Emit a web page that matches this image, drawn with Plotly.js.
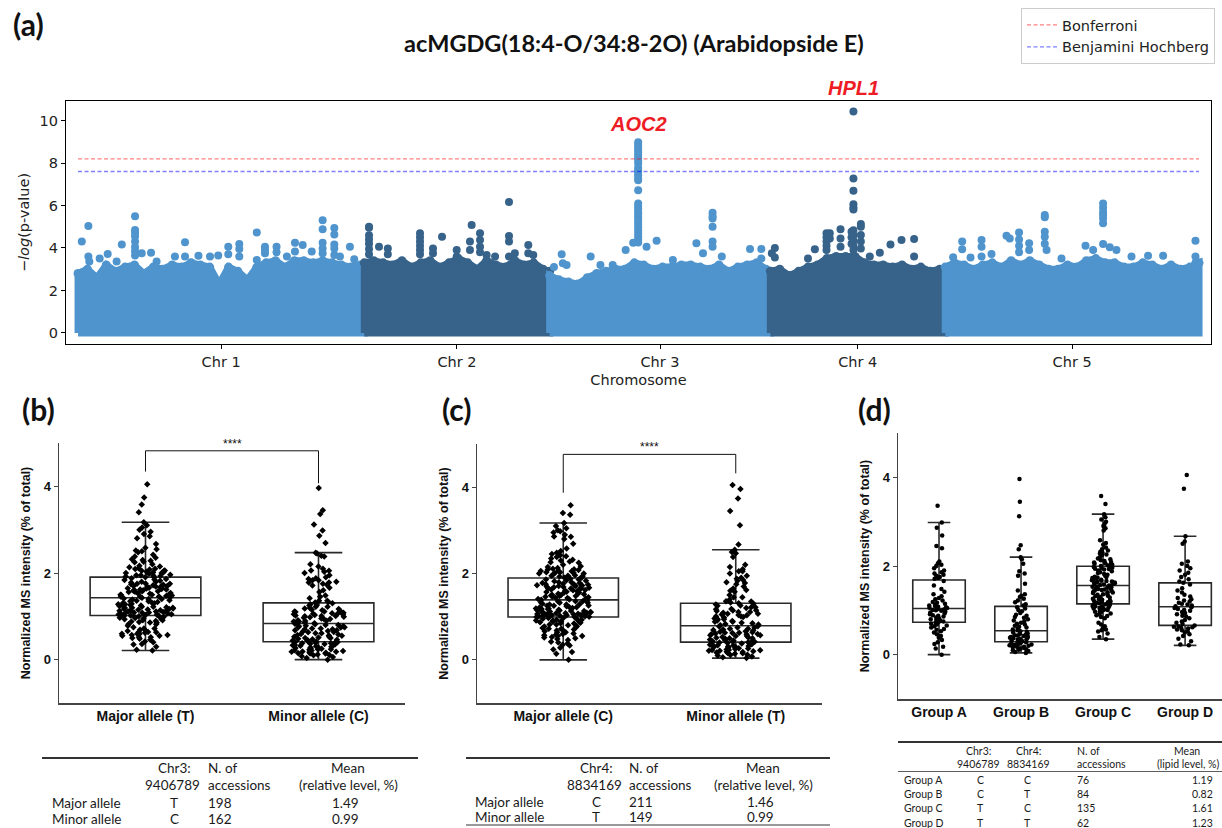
<!DOCTYPE html>
<html>
<head>
<meta charset="utf-8">
<script src="https://cdn.plot.ly/plotly-3.0.1.min.js"></script>
<style>
  html, body { margin: 0; padding: 0; background: #fff; }
  #fig { width: 1222px; height: 828px; }
</style>
</head>
<body>
<div id="fig"></div>
<script>
const W = 1222, H = 828;

// ---------------- Panel (a): genome-wide association ----------------
const chrNames = ['Chr 1', 'Chr 2', 'Chr 3', 'Chr 4', 'Chr 5'];
const chrLengthsMb = [30.43, 19.70, 23.46, 18.59, 26.98];
const chrColors = ['#4f94cd', '#37638a', '#4f94cd', '#37638a', '#4f94cd'];

// upper edge of the dense SNP cloud, one value per Mb (last value = chromosome end)
const chr1Cloud = [2.8, 3.0, 2.6, 3.2, 2.9, 3.1, 3.2, 2.8, 3.1, 3.0, 3.2, 3.1, 3.3, 3.2, 3.1, 2.3,
                   3.1, 2.9, 2.5, 3.1, 3.3, 3.4, 3.1, 3.4, 3.4, 3.3, 3.4, 3.3, 3.2, 3.1, 3.2, 2.9];
const chr2Cloud = [3.3, 3.4, 3.3, 3.2, 3.4, 3.1, 3.3, 3.4, 3.1, 3.3, 3.5, 3.3, 3.0, 3.4, 3.2, 3.1,
                   3.4, 3.2, 3.3, 3.0, 2.9];
const chr3Cloud = [2.7, 2.5, 2.4, 2.3, 2.6, 2.8, 2.9, 3.0, 3.0, 3.3, 3.2, 3.0, 3.1, 3.1, 3.2, 3.2,
                   3.1, 3.0, 3.2, 2.9, 3.1, 3.2, 3.3, 3.0, 2.9];
const chr4Cloud = [2.9, 3.0, 2.7, 2.9, 3.1, 3.2, 3.5, 3.6, 3.6, 3.6, 3.3, 3.2, 3.2, 3.1, 3.2, 3.0,
                   3.1, 2.9, 3.0, 2.9];
const chr5Cloud = [3.1, 3.3, 3.2, 3.0, 3.2, 3.3, 3.1, 3.4, 3.2, 3.4, 3.2, 3.0, 3.0, 3.2, 3.1, 3.4,
                   3.5, 3.3, 3.3, 3.1, 3.1, 3.3, 3.2, 3.0, 3.2, 3.0, 3.1, 3.3];

// SNPs standing above the cloud: position within the chromosome (Mb) and -log10(p)
const chr1HitPos = [0.4, 1.1, 1.1, 1.2, 2.3, 3.15, 4.1, 4.65,
  6.06, 6.06, 6.06, 6.06, 6.06, 6.06, 6.06, 6.06, 6.77, 7.76, 8.35, 10.3, 11.37, 11.37,
  12.1, 12.8, 14.03, 14.9, 15.97, 15.97, 17.14, 17.14, 17.14, 19.0, 19.0, 19.87, 19.87, 19.87,
  21.1, 21.1, 22.2, 23.06, 23.06, 23.88, 24.84, 26.0, 26.0, 26.0, 26.0, 26.0,
  27.24, 27.24, 27.24, 27.24, 27.24, 27.84, 28.9, 29.36];
const chr1HitLogP = [4.30, 5.03, 3.60, 3.36, 3.50, 3.72, 3.36, 4.17,
  5.50, 4.85, 4.72, 4.55, 4.30, 4.05, 3.85, 3.65, 3.75, 3.78, 3.36, 3.60, 4.27, 3.60,
  3.30, 3.64, 3.60, 3.65, 4.06, 3.70, 4.19, 3.95, 3.60, 4.73, 3.44, 4.06, 3.90, 3.75,
  4.06, 3.80, 3.60, 4.25, 3.83, 4.14, 3.83, 5.31, 4.88, 4.25, 3.98, 3.75,
  4.94, 4.64, 4.17, 3.98, 3.67, 3.60, 4.06, 3.47];

const chr2HitPos = [0.5, 0.5, 0.5, 0.5, 0.5, 0.5, 0.5, 1.56, 2.5, 2.5,
  5.92, 5.92, 5.92, 5.92, 5.92, 5.92, 7.3, 7.3, 8.26, 9.82, 9.82, 11.23, 11.23, 11.41,
  12.3, 12.3, 12.3, 12.3, 13.0, 13.9, 15.38, 15.38, 15.38, 15.38, 16.0, 17.43, 17.43, 17.96];
const chr2HitLogP = [5.00, 4.95, 4.60, 4.40, 4.20, 3.95, 3.70, 4.06, 3.98, 3.70,
  4.69, 4.50, 4.30, 4.10, 3.90, 3.70, 3.98, 3.75, 4.53, 3.90, 3.60, 4.30, 3.90, 5.08,
  4.69, 4.38, 4.06, 3.80, 3.67, 3.60, 6.17, 4.56, 4.30, 3.60, 3.75, 4.14, 3.75, 3.67];

// AOC2 column at Chr3:9406789
const chr3HitPos = [0.46, 1.28, 1.4, 1.8, 4.36, 5.4, 6.7, 8.08, 8.88,
  9.41, 9.41, 9.41, 9.41, 9.41, 9.41, 9.41, 9.41, 9.41, 9.41, 9.41, 9.41, 9.41, 9.41, 9.41,
  9.41, 9.41, 9.41, 9.41, 9.41, 9.41, 9.41, 9.41, 9.41, 9.41, 9.41, 9.41, 9.41, 9.41, 9.41, 9.41,
  10.3, 11.37, 13.1, 15.6, 16.3, 17.32, 17.32, 17.32, 17.32, 17.32, 17.32, 18.3, 21.3, 22.5, 22.5];
const chr3HitLogP = [3.10, 3.70, 3.28, 3.20, 3.60, 3.20, 3.20, 3.90, 4.25,
  8.98, 8.86, 8.74, 8.62, 8.50, 8.38, 8.26, 8.12, 7.98, 7.78, 7.66, 7.54, 7.42, 7.30, 7.19,
  6.72, 6.10, 5.98, 5.86, 5.74, 5.62, 5.50, 5.38, 5.24, 5.10, 4.96, 4.82, 4.68, 4.54, 4.40, 4.26,
  4.06, 4.34, 3.44, 4.22, 3.75, 5.66, 5.50, 5.39, 5.00, 4.30, 4.06, 3.60, 3.95, 3.95, 3.50];

// HPL1 column at Chr4:8834169
const chr4HitPos = [0.16, 0.48, 0.48, 4.0, 4.73, 5.97, 5.97, 5.97, 5.97, 5.97, 6.32, 6.32,
  7.46, 7.46, 7.46, 8.63, 8.63, 8.63,
  8.83, 8.83, 8.83, 8.83, 8.83, 8.83, 8.83, 8.83, 8.83, 8.83, 8.83,
  9.62, 9.62, 9.62, 9.62, 9.62, 10.57, 11.64, 12.77, 13.94, 15.28, 15.28];
const chr4HitLogP = [3.75, 4.00, 3.55, 3.50, 3.94, 4.69, 4.50, 4.30, 4.10, 3.90, 4.69, 4.45,
  4.88, 4.45, 4.06, 4.77, 4.50, 4.20,
  10.42, 7.27, 6.69, 6.06, 5.91, 5.81, 4.84, 4.60, 4.35, 4.10, 3.90,
  5.13, 5.00, 4.61, 4.30, 3.98, 3.60, 3.78, 4.17, 4.38, 4.42, 3.60];

const chr5HitPos = [0.84, 1.8, 1.8, 2.69, 3.86, 3.86, 3.86, 4.92, 6.51, 6.86,
  7.85, 7.85, 7.85, 7.85, 8.92, 8.92, 10.58, 10.58, 10.58, 10.58, 10.58, 10.77, 12.36,
  14.91, 15.72, 16.78, 16.78, 16.78, 16.78, 16.78, 16.78, 16.78, 17.49, 18.2, 19.8,
  21.56, 23.16, 26.6, 26.6, 26.6];
const chr5HitLogP = [3.56, 4.30, 3.94, 3.55, 4.38, 4.06, 3.60, 3.72, 4.58, 4.45,
  4.73, 4.40, 4.10, 3.80, 4.22, 3.90, 5.55, 5.45, 4.77, 4.53, 4.20, 3.90, 3.50,
  4.11, 3.90, 6.09, 5.90, 5.70, 5.55, 5.39, 5.16, 4.19, 4.03, 3.90, 3.60,
  3.63, 3.63, 4.34, 3.60, 3.30];

const bonferroniLevel = 8.2;
const bhLevel = 7.6;

const clouds = [chr1Cloud, chr2Cloud, chr3Cloud, chr4Cloud, chr5Cloud];
const hitPos = [chr1HitPos, chr2HitPos, chr3HitPos, chr4HitPos, chr5HitPos];
const hitLogP = [chr1HitLogP, chr2HitLogP, chr3HitLogP, chr4HitLogP, chr5HitLogP];

// ---------------- Panels (b)-(d): lipid levels per haplotype ----------------
// Group A: Chr3 C / Chr4 C, Group B: C / T, Group C: T / C, Group D: T / T
const groupA = [0.00, 0.14, 0.18, 0.24, 0.28, 0.33, 0.38, 0.42, 0.46, 0.50, 0.53, 0.56, 0.58, 0.61, 0.64, 0.66, 0.68, 0.70, 0.72,
  0.74, 0.75, 0.77, 0.78, 0.80, 0.82, 0.84, 0.86, 0.88, 0.89, 0.91, 0.93, 0.95, 0.97, 0.99, 1.00, 1.01, 1.02, 1.03,
  1.05, 1.06, 1.07, 1.08, 1.10, 1.11, 1.13, 1.15, 1.17, 1.19, 1.22, 1.25, 1.28, 1.32, 1.36, 1.42, 1.48, 1.56, 1.66,
  1.71, 1.73, 1.75, 1.78, 1.80, 1.83, 1.86, 1.90, 1.95, 2.00, 2.03, 2.06, 2.10, 2.40, 2.45, 2.69, 2.86, 2.98, 3.36];
const groupB = [0.04, 0.06, 0.08, 0.10, 0.11, 0.12, 0.14, 0.15, 0.16, 0.17, 0.18, 0.19, 0.20, 0.21, 0.22, 0.23, 0.24, 0.25, 0.26, 0.27, 0.28,
  0.30, 0.31, 0.32, 0.33, 0.34, 0.35, 0.36, 0.37, 0.38, 0.39, 0.40, 0.41, 0.42, 0.43, 0.44, 0.45, 0.47, 0.48, 0.50, 0.51, 0.53,
  0.55, 0.57, 0.59, 0.61, 0.63, 0.65, 0.68, 0.70, 0.72, 0.75, 0.77, 0.80, 0.83, 0.85, 0.88, 0.90, 0.94, 0.98, 1.01, 1.04, 1.07,
  1.11, 1.14, 1.18, 1.22, 1.26, 1.30, 1.33, 1.36, 1.45, 1.60, 1.78, 1.83, 1.88, 2.05, 2.15, 2.20, 2.38, 2.47, 3.12, 3.45, 3.96];
const groupC = [0.35, 0.40, 0.48, 0.52, 0.55, 0.57, 0.60, 0.64, 0.68, 0.72, 0.82, 0.85, 0.87, 0.89, 0.91, 0.93, 0.95, 0.97, 0.98, 1.00,
  1.01, 1.02, 1.03, 1.04, 1.05, 1.06, 1.07, 1.08, 1.09, 1.10, 1.11, 1.12, 1.13, 1.14,
  1.16, 1.17, 1.18, 1.19, 1.20, 1.21, 1.22, 1.24, 1.25, 1.26, 1.28, 1.29, 1.30, 1.32, 1.33, 1.35, 1.36, 1.37, 1.39, 1.40,
  1.41, 1.43, 1.44, 1.45, 1.46, 1.47, 1.48, 1.49, 1.50, 1.51, 1.52, 1.53, 1.54,
  1.56, 1.57, 1.58, 1.59, 1.60, 1.61, 1.62, 1.63, 1.64, 1.65, 1.66, 1.67, 1.68, 1.69, 1.70, 1.71, 1.72, 1.73, 1.74, 1.75,
  1.76, 1.78, 1.80, 1.82, 1.84, 1.86, 1.88, 1.90, 1.92, 1.93, 1.94, 1.95, 1.96, 1.98,
  2.00, 2.01, 2.02, 2.03, 2.05, 2.06, 2.08, 2.09, 2.11, 2.13, 2.15, 2.17, 2.20, 2.25, 2.26, 2.28, 2.30, 2.32, 2.35, 2.38,
  2.42, 2.48, 2.52, 2.58, 2.80, 2.85, 2.90, 2.95, 3.00, 3.05, 3.10, 3.17, 3.40, 3.58];
const groupD = [0.21, 0.23, 0.30, 0.36, 0.42, 0.46, 0.50, 0.52, 0.55, 0.57, 0.59, 0.60, 0.62, 0.63, 0.64,
  0.66, 0.69, 0.72, 0.75, 0.78, 0.82, 0.86, 0.88, 0.91, 0.94, 0.96, 0.99, 1.01, 1.03, 1.05, 1.07,
  1.09, 1.11, 1.13, 1.15, 1.17, 1.20, 1.22, 1.25, 1.28, 1.31, 1.35, 1.40, 1.45, 1.50, 1.58,
  1.62, 1.65, 1.70, 1.75, 1.80, 1.85, 1.90, 1.95, 2.00, 2.05, 2.10, 2.50, 2.55, 2.67, 3.74, 4.05];

const alleleLabelsB = ['Major allele (T)', 'Minor allele (C)'];
const alleleLabelsC = ['Major allele (C)', 'Minor allele (T)'];
const groupLabels = ['Group A', 'Group B', 'Group C', 'Group D'];

// Chr3:9406789 -> T carriers are groups C+D ; Chr4:8834169 -> C carriers are groups A+C
const chr3Major = groupC.concat(groupD), chr3Minor = groupA.concat(groupB);
const chr4Major = groupA.concat(groupC), chr4Minor = groupB.concat(groupD);

// summary tables
const tableBHeader = ['Chr3:', '9406789'];
const tableBRows = ['Major allele', 'Minor allele'];
const tableBAlleles = ['T', 'C'];
const tableBCounts = ['198', '162'];
const tableBMeans = ['1.49', '0.99'];

const tableCHeader = ['Chr4:', '8834169'];
const tableCRows = ['Major allele', 'Minor allele'];
const tableCAlleles = ['C', 'T'];
const tableCCounts = ['211', '149'];
const tableCMeans = ['1.46', '0.99'];

const tableDRows = ['Group A', 'Group B', 'Group C', 'Group D'];
const tableDChr3 = ['C', 'C', 'T', 'T'];
const tableDChr4 = ['C', 'T', 'C', 'T'];
const tableDCounts = ['76', '84', '135', '62'];
const tableDMeans = ['1.19', '0.82', '1.61', '1.23'];

// ---------------- helpers ----------------
const fx = v => v / W;          // pixel -> paper x
const fy = v => 1 - v / H;      // pixel -> paper y

const cumStart = [];
let genomeLen = 0;
chrLengthsMb.forEach(L => { cumStart.push(genomeLen); genomeLen += L; });
const chrMid = chrLengthsMb.map((L, i) => cumStart[i] + L / 2);

const traces = [];

clouds.forEach((cloud, i) => {
  const L = chrLengthsMb[i], s = cumStart[i];
  const grid = cloud.map((_, k) => (k === cloud.length - 1 ? L : k));
  // filled body of the SNP cloud
  traces.push({
    type: 'scatter', mode: 'lines', xaxis: 'x', yaxis: 'y',
    x: [0].concat(grid, [L, 0]).map(v => v + s),
    y: [0].concat(cloud, [0, 0]),
    fill: 'toself', fillcolor: chrColors[i],
    line: { color: chrColors[i], width: 7 },
    showlegend: false, hoverinfo: 'skip'
  });
  // dotted upper rim of the cloud
  traces.push({
    type: 'scatter', mode: 'markers', xaxis: 'x', yaxis: 'y',
    x: grid.map(v => v + s), y: cloud,
    marker: { color: chrColors[i], size: 9, line: { width: 0 } },
    showlegend: false, hoverinfo: 'skip'
  });
  traces.push({
    type: 'scatter', mode: 'markers', xaxis: 'x', yaxis: 'y',
    x: hitPos[i].map(p => p + s), y: hitLogP[i],
    marker: { color: chrColors[i], size: 8, line: { width: 0 } },
    showlegend: false, hoverinfo: 'skip'
  });
});

traces.push({
  type: 'scatter', mode: 'lines', xaxis: 'x', yaxis: 'y', name: 'Bonferroni',
  x: [0, genomeLen], y: [bonferroniLevel, bonferroniLevel],
  line: { color: 'rgba(255,0,0,0.5)', width: 1.3, dash: '4px,2.5px' }
});
traces.push({
  type: 'scatter', mode: 'lines', xaxis: 'x', yaxis: 'y', name: 'Benjamini Hochberg',
  x: [0, genomeLen], y: [bhLevel, bhLevel],
  line: { color: 'rgba(0,0,255,0.5)', width: 1.3, dash: '4px,2.5px' }
});

function boxTrace(vals, label, xa, ya, symbol, size, jitter) {
  return {
    type: 'box', y: vals, x0: label, name: label, xaxis: xa, yaxis: ya,
    boxpoints: 'all', jitter: jitter, pointpos: 0, width: 0.64, whiskerwidth: 0.43,
    fillcolor: 'rgba(255,255,255,0)', line: { color: '#2a2a2a', width: 1.6 },
    marker: { color: '#000', size: size, symbol: symbol },
    showlegend: false, hoverinfo: 'skip'
  };
}
traces.push(boxTrace(chr3Major, alleleLabelsB[0], 'x2', 'y2', 'diamond', 5, 0.5));
traces.push(boxTrace(chr3Minor, alleleLabelsB[1], 'x2', 'y2', 'diamond', 5, 0.5));
traces.push(boxTrace(chr4Major, alleleLabelsC[0], 'x3', 'y3', 'diamond', 5, 0.5));
traces.push(boxTrace(chr4Minor, alleleLabelsC[1], 'x3', 'y3', 'diamond', 5, 0.5));
[groupA, groupB, groupC, groupD].forEach((g, i) =>
  traces.push(boxTrace(g, groupLabels[i], 'x4', 'y4', 'circle', 4.5, 0.45)));

// ---------------- axes ----------------
const dejavu = 'DejaVu Sans, sans-serif';
const arial = 'Liberation Sans, Arial, sans-serif';
const lato = 'Lato, sans-serif';

function boxXAxis(domain, labels, range) {
  return {
    domain: domain, type: 'category', categoryorder: 'array', categoryarray: labels,
    range: range, showline: true, linecolor: '#444', linewidth: 1.5, ticks: '',
    showgrid: false, zeroline: false, fixedrange: true,
    tickfont: { family: arial, size: 14, color: '#111', weight: 'bold' }
  };
}
function boxYAxis(domain, anchor) {
  return {
    domain: domain, anchor: anchor, range: [-1, 5], tickvals: [0, 2, 4],
    showline: true, linecolor: '#444', linewidth: 1.5, ticks: 'outside', ticklen: 4,
    tickcolor: '#444', showgrid: false, zeroline: false,
    tickfont: { family: arial, size: 13, color: '#111', weight: 'bold' },
    title: { text: 'Normalized MS intensity (% of total)', standoff: 10,
             font: { family: arial, size: 12.5, color: '#111', weight: 'bold' } }
  };
}

const layout = {
  width: W, height: H, margin: { l: 0, r: 0, t: 0, b: 0 },
  paper_bgcolor: '#fff', plot_bgcolor: '#fff',
  showlegend: true,
  legend: {
    x: fx(1215), y: fy(8), xanchor: 'right', yanchor: 'top',
    bgcolor: '#fff', bordercolor: '#cccccc', borderwidth: 1, itemwidth: 30,
    font: { family: dejavu, size: 14.5, color: '#222' }, tracegroupgap: 0
  },
  xaxis: {
    domain: [fx(66), fx(1211)], anchor: 'y', range: [-1.28, 120.43],
    tickvals: chrMid, ticktext: chrNames, ticks: 'outside', ticklen: 4, tickcolor: '#000',
    showline: true, mirror: true, linecolor: '#000', linewidth: 1.2,
    showgrid: false, zeroline: false,
    tickfont: { family: dejavu, size: 14.5, color: '#222' },
    title: { text: 'Chromosome', standoff: 6, font: { family: dejavu, size: 14.5, color: '#222' } }
  },
  yaxis: {
    domain: [fy(344), fy(101)], anchor: 'x', range: [-0.52, 10.92],
    tickvals: [0, 2, 4, 6, 8, 10], ticks: 'outside', ticklen: 4, tickcolor: '#000',
    showline: true, mirror: true, linecolor: '#000', linewidth: 1.2,
    showgrid: false, zeroline: false,
    tickfont: { family: dejavu, size: 14.5, color: '#222' },
    title: { text: '\u2212<i>log</i>(p-value)', standoff: 6, font: { family: dejavu, size: 14.5, color: '#222' } }
  },
  xaxis2: Object.assign(boxXAxis([fx(59), fx(405)], alleleLabelsB, [-0.5, 1.5]), { anchor: 'y2' }),
  yaxis2: boxYAxis([fy(703), fy(443)], 'x2'),
  xaxis3: Object.assign(boxXAxis([fx(477), fx(822)], alleleLabelsC, [-0.5, 1.5]), { anchor: 'y3' }),
  yaxis3: boxYAxis([fy(703), fy(444)], 'x3'),
  xaxis4: Object.assign(boxXAxis([fx(898), fx(1222)], groupLabels, [-0.5, 3.45]), { anchor: 'y4' }),
  yaxis4: boxYAxis([fy(699), fy(433)], 'x4'),
  boxmode: 'group',
  shapes: [],
  annotations: []
};

const ann = layout.annotations, shp = layout.shapes;

// figure title and gene labels
ann.push({ xref: 'paper', yref: 'paper', x: fx(634), y: fy(43), xanchor: 'center', yanchor: 'middle',
  text: 'acMGDG(18:4-O/34:8-2O) (Arabidopside E)',
  showarrow: false, font: { family: lato, size: 23.5, color: '#111', weight: 'bold' } });
ann.push({ xref: 'x', yref: 'y', x: cumStart[2] + 9.4068, y: 9.86, text: '<b><i>AOC2</i></b>',
  showarrow: false, font: { family: arial, size: 20, color: '#ee1c25' } });
ann.push({ xref: 'x', yref: 'paper', x: cumStart[3] + 8.8342, y: fy(88), yanchor: 'middle', text: '<b><i>HPL1</i></b>',
  showarrow: false, font: { family: arial, size: 20, color: '#ee1c25' } });

// panel letters
[['(a)', 28, 24], ['(b)', 38, 409], ['(c)', 457, 409], ['(d)', 874, 409]].forEach(p =>
  ann.push({ xref: 'paper', yref: 'paper', x: fx(p[1]), y: fy(p[2]), xanchor: 'center', yanchor: 'middle',
    text: p[0], showarrow: false, font: { family: lato, size: 30, color: '#111', weight: 'bold' } }));

// significance brackets
function bracket(xa, ya, left, top, right, starsY) {
  const line = { color: '#111', width: 1 };
  shp.push({ type: 'line', xref: xa, yref: ya, x0: 0, x1: 0, y0: left, y1: top, line });
  shp.push({ type: 'line', xref: xa, yref: ya, x0: 0, x1: 1, y0: top, y1: top, line });
  shp.push({ type: 'line', xref: xa, yref: ya, x0: 1, x1: 1, y0: right, y1: top, line });
  ann.push({ xref: xa, yref: ya, x: 0.5, y: starsY, text: '****', showarrow: false,
    font: { family: arial, size: 12, color: '#111' } });
}
bracket('x2', 'y2', 4.34, 4.82, 4.07, 4.97);
bracket('x3', 'y3', 3.87, 4.76, 4.32, 4.93);

// tables
function txt(x, y, t, anchor, size) {
  ann.push({ xref: 'paper', yref: 'paper', x: fx(x), y: fy(y), text: t, showarrow: false,
    xanchor: anchor, yanchor: 'middle', font: { family: lato, size: size, color: '#1a1a1a' } });
}
function rule(x0, x1, y, w) {
  shp.push({ type: 'line', xref: 'paper', yref: 'paper', x0: fx(x0), x1: fx(x1), y0: fy(y), y1: fy(y),
    line: { color: '#333', width: w } });
}
function alleleTable(x0, x1, cols, header, rows, alleles, counts, means, rowY) {
  rule(x0, x1, 758, 2);
  txt(cols[1], 768, header[0], 'center', 13.5);
  txt(cols[1] - 2, 785, header[1], 'center', 13.5);
  txt(cols[2], 768, 'N. of', 'left', 13.5);
  txt(cols[2], 785, 'accessions', 'left', 13.5);
  txt(cols[3], 768, 'Mean', 'center', 13.5);
  txt(cols[3], 785, '(relative level, %)', 'center', 13.5);
  rows.forEach((r, i) => {
    txt(cols[0], rowY[i], r, 'left', 13.5);
    txt(cols[1], rowY[i], alleles[i], 'center', 13.5);
    txt(cols[2], rowY[i], counts[i], 'left', 13.5);
    txt(cols[3] - 3, rowY[i], means[i], 'center', 13.5);
  });
}
alleleTable(42, 418, [50, 174, 206, 348], tableBHeader, tableBRows, tableBAlleles, tableBCounts, tableBMeans, [803, 819]);
alleleTable(466, 830, [473, 596, 627, 763], tableCHeader, tableCRows, tableCAlleles, tableCCounts, tableCMeans, [802, 817]);
rule(466, 830, 825, 1);

// haplotype table
rule(898, 1222, 742, 2);
txt(978, 751, 'Chr3:', 'center', 10.5);
txt(978, 764, '9406789', 'center', 10.5);
txt(1028, 751, 'Chr4:', 'center', 10.5);
txt(1028, 764, '8834169', 'center', 10.5);
txt(1075, 751, 'N. of', 'left', 10.5);
txt(1075, 764, 'accessions', 'left', 10.5);
txt(1187, 751, 'Mean', 'center', 10.5);
txt(1221, 764, '(lipid level, %)', 'right', 10.5);
rule(898, 1222, 771.5, 0.8);
tableDRows.forEach((r, i) => {
  const y = 780 + i * 14.2;
  txt(902, y, r, 'left', 10.5);
  txt(980, y, tableDChr3[i], 'center', 10.5);
  txt(1027, y, tableDChr4[i], 'center', 10.5);
  txt(1075, y, tableDCounts[i], 'left', 10.5);
  txt(1202, y, tableDMeans[i], 'center', 10.5);
});

Plotly.newPlot('fig', traces, layout, { staticPlot: true, displayModeBar: false });
</script>
</body>
</html>
